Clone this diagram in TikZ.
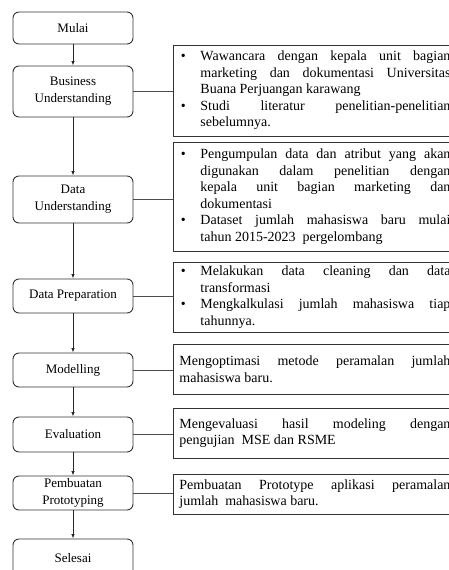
\documentclass[tikz,border=0pt]{standalone}
\usepackage{fontspec}
\setmainfont{Liberation Serif}
\usetikzlibrary{arrows.meta,positioning}
\hbadness=10000
\hyphenpenalty=10000
\exhyphenpenalty=10000
\newcommand{\bul}{\noindent\hangindent=21pt\hangafter=1\makebox[21pt][l]{\hspace{1.5pt}\textbullet}}
\newcommand{\rtext}[1]{\parbox{271pt}{\fontsize{14}{16.5}\selectfont #1}}
\tikzset{
  stepbox/.style={draw=black!80, line width=0.9pt, rounded corners=6pt, minimum width=120pt,
    inner sep=0pt, align=center, font=\fontsize{13}{17}\selectfont},
  descbox/.style={draw=black!80, line width=0.9pt, anchor=west, inner xsep=6pt, inner ysep=0pt},
  flow/.style={draw=black!85, line width=0.8pt, -{Latex[length=4.5pt,width=3.5pt]}},
  link/.style={draw=black!70, line width=0.8pt}
}
\begin{document}
\begin{tikzpicture}[x=1pt,y=-1pt]
\useasboundingbox (0,0) rectangle (448,570);
% left column
\node[stepbox, minimum height=32pt] (mulai) at (73,28) {Mulai};
\node[stepbox, minimum height=51pt] (bu) at (73,91.5) {Business\\Understanding};
\node[stepbox, minimum height=47pt] (du) at (73,199.5) {Data\\Understanding};
\node[stepbox, minimum height=34pt] (dp) at (73,296) {Data Preparation};
\node[stepbox, minimum height=34pt] (mo) at (73,370) {Modelling};
\node[stepbox, minimum height=35pt] (ev) at (73,434.5) {Evaluation};
\node[stepbox, minimum height=34pt] (pp) at (73,493) {Pembuatan\\Prototyping};
\node[stepbox, minimum height=38pt] (se) at (73,558) {Selesai};
% right column
\node[descbox, minimum height=91pt] (r1) at (173,90.5) {\rtext{%
\bul Wawancara dengan kepala unit bagian\linebreak marketing dan dokumentasi Universitas\linebreak Buana Perjuangan karawang\par
\bul Studi literatur penelitian-penelitian\linebreak sebelumnya.\par}};
\node[descbox, minimum height=109pt] (r2) at (173,196.5) {\rtext{%
\bul Pengumpulan data dan atribut yang akan\linebreak digunakan dalam penelitian dengan\linebreak kepala unit bagian marketing dan\linebreak dokumentasi\par
\bul Dataset jumlah mahasiswa baru mulai\linebreak tahun 2015-2023\ \ pergelombang\par}};
\node[descbox, minimum height=70pt] (r3) at (173,297) {\rtext{%
\bul Melakukan data cleaning dan data\linebreak transformasi\par
\bul Mengkalkulasi jumlah mahasiswa tiap\linebreak tahunnya.\par}};
\node[descbox, minimum height=50pt] (r4) at (173,369) {\rtext{%
\noindent Mengoptimasi metode peramalan jumlah\linebreak mahasiswa baru.\par}};
\node[descbox, minimum height=50pt] (r5) at (173,433) {\rtext{%
\noindent Mengevaluasi hasil modeling dengan\linebreak pengujian\ \ MSE dan RSME\par}};
\node[descbox, minimum height=40pt] (r6) at (173,494) {\rtext{%
\noindent Pembuatan Prototype aplikasi peramalan\linebreak jumlah\ \ mahasiswa baru.\par}};
% flow arrows
\draw[flow] (mulai) -- (bu);
\draw[flow] (bu) -- (du);
\draw[flow] (du) -- (dp);
\draw[flow] (dp) -- (mo);
\draw[flow] (mo) -- (ev);
\draw[flow] (ev) -- (pp);
\draw[flow] (pp) -- (se);
% links
\draw[link] (bu.east) -- (bu.east -| r1.west);
\draw[link] (du.east) -- (du.east -| r2.west);
\draw[link] (dp.east) -- (dp.east -| r3.west);
\draw[link] (mo.east) -- (mo.east -| r4.west);
\draw[link] (ev.east) -- (ev.east -| r5.west);
\draw[link] (pp.east) -- (pp.east -| r6.west);
\end{tikzpicture}
\end{document}
